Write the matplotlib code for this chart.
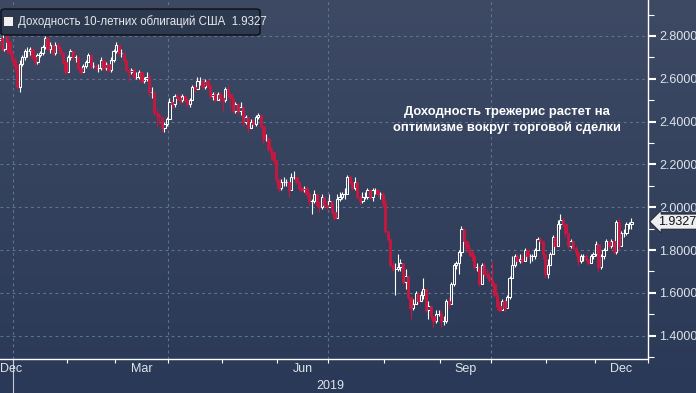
import numpy as np
import matplotlib
matplotlib.use('Agg')
import matplotlib.pyplot as plt
import matplotlib.transforms as mtransforms
from matplotlib.patches import FancyBboxPatch, Rectangle

plt.rcParams['font.family'] = ['Liberation Sans', 'DejaVu Sans']

# trading sessions per month of 2019 (x axis is a session index)
month_days = [21, 19, 21, 21, 22, 20, 22, 22, 20, 22, 19, 21]
month_names = ['Jan', 'Feb', 'Mar', 'Apr', 'May', 'Jun',
               'Jul', 'Aug', 'Sep', 'Oct', 'Nov', 'Dec']
shown_months = ['Mar', 'Jun', 'Sep', 'Dec']
n_prev = 6          # sessions of Dec 2018 at the left edge
first_open = 2.78
last_value = 1.9327
legend_text = 'Доходность 10-летних облигаций США  1.9327'
note_text = 'Доходность трежерис растет на\nоптимизме вокруг торговой сделки'

closes = [
    2.79, 2.74, 2.81, 2.77, 2.72, 2.69,                                  # Dec 18
    2.66, 2.56, 2.67, 2.70, 2.73, 2.73, 2.74, 2.70, 2.68, 2.71, 2.72,
    2.75, 2.79, 2.74, 2.76, 2.72, 2.76, 2.75, 2.72, 2.68, 2.63,          # Jan
    2.70, 2.73, 2.70, 2.70, 2.65, 2.63, 2.66, 2.68, 2.71, 2.66,
    2.66, 2.65, 2.65, 2.69, 2.65, 2.67, 2.64, 2.69, 2.73,                # Feb
    2.76, 2.72, 2.72, 2.69, 2.64, 2.63, 2.64, 2.61, 2.61, 2.63, 2.59,
    2.60, 2.61, 2.54, 2.54, 2.44, 2.43, 2.42, 2.37, 2.39, 2.41,          # Mar
    2.49, 2.48, 2.52, 2.51, 2.50, 2.52, 2.50, 2.48, 2.50, 2.56, 2.55,
    2.59, 2.59, 2.56, 2.59, 2.57, 2.52, 2.53, 2.50, 2.53, 2.51,          # Apr
    2.50, 2.55, 2.53, 2.51, 2.45, 2.48, 2.45, 2.47, 2.40, 2.42, 2.37,
    2.40, 2.39, 2.42, 2.43, 2.38, 2.32, 2.32, 2.27, 2.26, 2.22, 2.13,    # May
    2.09, 2.12, 2.12, 2.12, 2.08, 2.14, 2.14, 2.12, 2.09, 2.08,
    2.09, 2.06, 2.03, 2.03, 2.06, 2.01, 2.00, 2.05, 2.01, 2.00,          # Jun
    2.03, 1.98, 1.95, 2.04, 2.05, 2.06, 2.06, 2.14, 2.12, 2.09, 2.12,
    2.05, 2.03, 2.05, 2.05, 2.08, 2.05, 2.08, 2.08, 2.06, 2.06, 2.02,    # Jul
    1.89, 1.85, 1.73, 1.71, 1.71, 1.72, 1.74, 1.65, 1.68, 1.58, 1.53,
    1.55, 1.60, 1.56, 1.59, 1.62, 1.52, 1.54, 1.49, 1.47, 1.50, 1.50,    # Aug
    1.47, 1.47, 1.56, 1.55, 1.64, 1.73, 1.74, 1.79, 1.90, 1.84,
    1.81, 1.79, 1.77, 1.72, 1.72, 1.64, 1.73, 1.69, 1.68, 1.66,          # Sep
    1.64, 1.59, 1.54, 1.52, 1.56, 1.53, 1.58, 1.67, 1.73, 1.77, 1.75,
    1.76, 1.75, 1.80, 1.77, 1.77, 1.77, 1.80, 1.85, 1.84, 1.78, 1.69,    # Oct
    1.73, 1.78, 1.86, 1.82, 1.92, 1.94, 1.92, 1.88, 1.82, 1.84,
    1.81, 1.79, 1.75, 1.77, 1.77, 1.76, 1.74, 1.77, 1.78,                # Nov
    1.83, 1.72, 1.77, 1.80, 1.84, 1.82, 1.84, 1.79, 1.93, 1.82,
    1.88, 1.88, 1.92, 1.92, 1.9327,                                      # Dec
]
highs = [
    2.81, 2.80, 2.82, 2.82, 2.78, 2.73,
    2.70, 2.67, 2.69, 2.71, 2.74, 2.75, 2.75, 2.74, 2.71, 2.72, 2.73,
    2.76, 2.80, 2.79, 2.77, 2.76, 2.77, 2.77, 2.75, 2.73, 2.69,
    2.71, 2.74, 2.73, 2.71, 2.70, 2.66, 2.67, 2.69, 2.72, 2.71,
    2.68, 2.67, 2.67, 2.70, 2.69, 2.68, 2.67, 2.70, 2.74,
    2.77, 2.76, 2.74, 2.72, 2.69, 2.65, 2.65, 2.65, 2.63, 2.64, 2.63,
    2.61, 2.63, 2.62, 2.56, 2.54, 2.46, 2.44, 2.42, 2.40, 2.42,
    2.51, 2.50, 2.53, 2.53, 2.53, 2.53, 2.52, 2.51, 2.51, 2.57, 2.57,
    2.61, 2.61, 2.59, 2.60, 2.60, 2.57, 2.54, 2.54, 2.54, 2.54,
    2.53, 2.56, 2.57, 2.53, 2.51, 2.49, 2.48, 2.49, 2.46, 2.43, 2.42,
    2.41, 2.41, 2.43, 2.44, 2.43, 2.38, 2.34, 2.33, 2.28, 2.26, 2.22,
    2.13, 2.13, 2.14, 2.13, 2.12, 2.16, 2.17, 2.14, 2.12, 2.10,
    2.10, 2.10, 2.07, 2.04, 2.08, 2.06, 2.03, 2.06, 2.05, 2.03,
    2.06, 2.03, 1.98, 2.06, 2.07, 2.07, 2.09, 2.15, 2.15, 2.12, 2.14,
    2.12, 2.06, 2.07, 2.07, 2.09, 2.08, 2.09, 2.09, 2.08, 2.07, 2.07,
    2.04, 1.89, 1.85, 1.75, 1.74, 1.78, 1.76, 1.74, 1.71, 1.68, 1.58,
    1.57, 1.61, 1.60, 1.61, 1.67, 1.62, 1.56, 1.54, 1.49, 1.52, 1.52,
    1.52, 1.49, 1.57, 1.58, 1.65, 1.74, 1.75, 1.80, 1.91, 1.90,
    1.84, 1.83, 1.80, 1.78, 1.74, 1.72, 1.74, 1.74, 1.71, 1.70,
    1.75, 1.65, 1.60, 1.56, 1.57, 1.57, 1.59, 1.68, 1.77, 1.78, 1.78,
    1.78, 1.78, 1.81, 1.80, 1.78, 1.78, 1.81, 1.86, 1.86, 1.84, 1.78,
    1.76, 1.79, 1.87, 1.86, 1.94, 1.97, 1.95, 1.92, 1.88, 1.85,
    1.84, 1.82, 1.79, 1.78, 1.78, 1.78, 1.76, 1.78, 1.79,
    1.84, 1.83, 1.78, 1.81, 1.85, 1.84, 1.85, 1.84, 1.94, 1.95,
    1.89, 1.90, 1.93, 1.93, 1.95,
]
lows = [
    2.76, 2.73, 2.73, 2.72, 2.71, 2.68,
    2.63, 2.55, 2.54, 2.66, 2.69, 2.70, 2.71, 2.69, 2.66, 2.67, 2.70,
    2.71, 2.74, 2.73, 2.72, 2.71, 2.71, 2.74, 2.71, 2.67, 2.62,
    2.63, 2.69, 2.69, 2.68, 2.64, 2.62, 2.63, 2.65, 2.68, 2.65,
    2.65, 2.64, 2.63, 2.64, 2.64, 2.64, 2.63, 2.63, 2.68,
    2.72, 2.71, 2.70, 2.68, 2.63, 2.59, 2.62, 2.60, 2.60, 2.60, 2.58,
    2.58, 2.59, 2.52, 2.51, 2.43, 2.38, 2.39, 2.35, 2.35, 2.38,
    2.41, 2.46, 2.47, 2.50, 2.48, 2.49, 2.49, 2.47, 2.47, 2.50, 2.54,
    2.55, 2.57, 2.55, 2.55, 2.56, 2.51, 2.50, 2.49, 2.50, 2.49,
    2.45, 2.49, 2.51, 2.46, 2.44, 2.44, 2.43, 2.43, 2.38, 2.39, 2.35,
    2.37, 2.38, 2.38, 2.41, 2.37, 2.30, 2.31, 2.26, 2.22, 2.20, 2.12,
    2.07, 2.08, 2.10, 2.10, 2.05, 2.08, 2.13, 2.11, 2.08, 2.07,
    2.07, 2.05, 2.01, 1.97, 2.02, 2.00, 1.98, 1.99, 2.00, 1.99,
    2.00, 1.97, 1.94, 1.95, 2.03, 2.04, 2.04, 2.06, 2.11, 2.08, 2.08,
    2.04, 2.01, 2.02, 2.04, 2.04, 2.04, 2.03, 2.06, 2.05, 2.04, 2.00,
    1.88, 1.84, 1.72, 1.70, 1.59, 1.70, 1.70, 1.64, 1.62, 1.57, 1.48,
    1.52, 1.55, 1.55, 1.56, 1.57, 1.51, 1.48, 1.48, 1.44, 1.46, 1.49,
    1.44, 1.45, 1.46, 1.53, 1.55, 1.63, 1.71, 1.69, 1.77, 1.83,
    1.79, 1.77, 1.75, 1.71, 1.70, 1.63, 1.64, 1.68, 1.67, 1.65,
    1.63, 1.58, 1.52, 1.51, 1.52, 1.51, 1.53, 1.57, 1.67, 1.72, 1.74,
    1.74, 1.74, 1.75, 1.76, 1.74, 1.75, 1.76, 1.80, 1.83, 1.76, 1.67,
    1.67, 1.73, 1.78, 1.81, 1.82, 1.90, 1.91, 1.86, 1.81, 1.81,
    1.80, 1.77, 1.73, 1.74, 1.75, 1.75, 1.73, 1.74, 1.76,
    1.77, 1.70, 1.71, 1.76, 1.80, 1.81, 1.81, 1.78, 1.78, 1.80,
    1.82, 1.86, 1.87, 1.90, 1.90,
]

W, H = 696, 393
bg_top, bg_bottom = '#3e4a64', '#2a3957'
grid_col = '#60748f'
text_col = '#dfe4ea'
red = '#c8173f'

closes = np.array(closes)
highs = np.array(highs)
lows = np.array(lows)
opens = np.r_[first_open, closes[:-1]]
x = np.arange(len(closes)) - n_prev
bounds = np.r_[0, np.cumsum(month_days)] - 0.5

fig = plt.figure(figsize=(W / 100, H / 100), dpi=100)

# background gradient over the whole figure
bg = fig.add_axes([0, 0, 1, 1], zorder=-10)
bg.imshow(np.linspace(0, 1, 256)[:, None], aspect='auto', extent=(0, 1, 0, 1),
          cmap=matplotlib.colors.LinearSegmentedColormap.from_list('bg', [bg_top, bg_bottom]))
bg.axis('off')

ax = fig.add_axes([0, 34 / H, 648 / W, 359 / H])
ax.set_facecolor('none')
ax.set_xlim(-5.75, bounds[-1])
ax.set_ylim(1.291, 2.968)

# grid
for v in np.arange(1.4, 2.81, 0.2):
    ax.axhline(v, color=grid_col, lw=0.8, ls=(0, (2.5, 3)), zorder=1)
for m in [0, 3, 6, 9]:
    ax.axvline(bounds[m], color=grid_col, lw=0.8, ls=(0, (2.5, 3)), zorder=1)

# candles
up = closes >= opens
dn = ~up
top = np.maximum(opens, closes)
bot = np.minimum(opens, closes)
ax.vlines(x[up], top[up], highs[up], color='white', lw=0.8, zorder=3)
ax.vlines(x[up], lows[up], bot[up], color='white', lw=0.8, zorder=3)
ax.vlines(x[dn], lows[dn], highs[dn], color=red, lw=0.8, zorder=3)
ax.bar(x[up], top[up] - bot[up], bottom=bot[up], width=0.9,
       facecolor='none', edgecolor='white', linewidth=0.75, zorder=4)
ax.bar(x[dn], top[dn] - bot[dn], bottom=bot[dn], width=0.9,
       facecolor=red, edgecolor=red, linewidth=0.6, zorder=4)

# spines and ticks
for s in ['top', 'left']:
    ax.spines[s].set_visible(False)
for s in ['right', 'bottom']:
    ax.spines[s].set_color('white')
    ax.spines[s].set_linewidth(1.0)

ax.yaxis.tick_right()
ax.set_yticks(np.arange(1.4, 2.81, 0.2))
ax.set_yticklabels(['%.4f' % v for v in np.arange(1.4, 2.81, 0.2)])
ax.set_yticks(np.arange(1.3, 2.91, 0.2), minor=True)
ax.tick_params(axis='y', which='major', length=6, width=1.5, color='white',
               labelcolor=text_col, labelsize=9, pad=2)
ax.tick_params(axis='y', which='minor', length=4, width=0.8, color='white')

ax.set_xticks(bounds)
ax.set_xticklabels([])
ax.tick_params(axis='x', which='major', length=3, width=0.8, color='white', direction='out')

trans = mtransforms.blended_transform_factory(ax.transData, ax.transAxes)
for m, name in enumerate(month_names):
    if name in shown_months:
        ax.annotate(name, xy=((bounds[m] + bounds[m + 1]) / 2, 0), xycoords=trans,
                    xytext=(0, -7.5), textcoords='offset points',
                    ha='center', va='center', fontsize=9, color=text_col)
ax.annotate('Dec', xy=(0, 0), xycoords='axes fraction', xytext=(0, -7.5),
            textcoords='offset points', ha='left', va='center', fontsize=9, color=text_col)
ax.annotate('2019', xy=((bounds[0] + bounds[-1]) / 2, 0), xycoords=trans,
            xytext=(0, -19.5), textcoords='offset points',
            ha='center', va='center', fontsize=9, color=text_col)
ax.plot([bounds[0], bounds[0]], [0, -34 / 359], transform=trans, clip_on=False,
        color='#c5ccd6', lw=0.8)

# last value marker on the right axis
ax.annotate('%.4f' % last_value, xy=(1, last_value),
            xycoords=('axes fraction', 'data'), xytext=(7, 0),
            textcoords='offset points', ha='left', va='center', fontsize=9,
            color='#111111', annotation_clip=False,
            bbox=dict(boxstyle='larrow,pad=0.12', fc='#eceef1', ec='#1a1a1a', lw=0.6))

# note
ax.text(507 / 648, (359 - 120) / 359, note_text, transform=ax.transAxes,
        ha='center', va='center', fontsize=9.4, fontweight='bold', color='white',
        linespacing=1.3, zorder=6)

# legend box (figure pixel coordinates)
def fx(px):
    return px / W


def fy(py):
    return 1 - py / H


fig.patches.append(FancyBboxPatch((fx(1), fy(35)), fx(259), 26 / H,
                                  boxstyle='round,pad=0,rounding_size=0.006',
                                  transform=fig.transFigure, fc='#2d394f', ec='#0c0f16',
                                  lw=1.0, zorder=20))
fig.patches.append(Rectangle((fx(4), fy(26)), fx(9), 9 / H, transform=fig.transFigure,
                             fc='#f4eeee', ec='none', zorder=21))
fig.text(fx(18), fy(22), legend_text, fontsize=8.3, color='#e6e9ee',
         ha='left', va='center', zorder=22)

fig.savefig('out.png', dpi=100, facecolor=bg_bottom)
